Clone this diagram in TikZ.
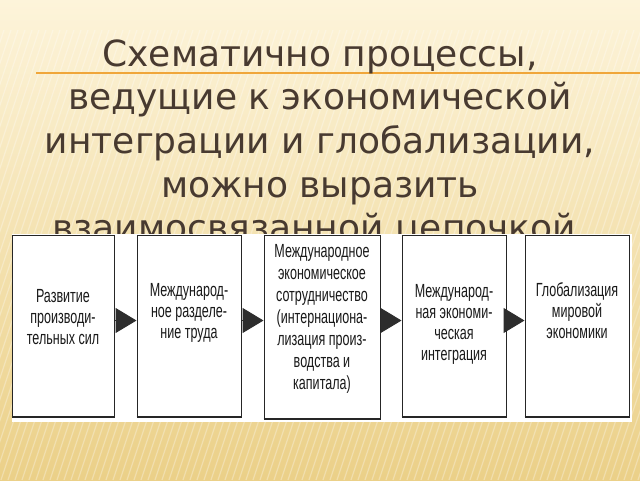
\documentclass[tikz,border=0pt]{standalone}
\usepackage{fontspec}
\setmainfont{DejaVu Sans}
\newfontfamily\boxfont[FakeStretch=0.66]{Liberation Sans}
\usetikzlibrary{arrows.meta}
\definecolor{titlebrown}{RGB}{72,58,48}
\definecolor{bgtop}{RGB}{253,244,218}
\definecolor{bgmid}{RGB}{250,232,178}
\definecolor{bgbot}{RGB}{235,208,136}
\definecolor{rulecol}{RGB}{240,166,58}
\definecolor{arrowgray}{RGB}{45,45,45}
\newcommand{\lines}[1]{\begin{tabular}[t]{@{}c@{}}#1\end{tabular}}
\tikzset{
  titletext/.style={inner sep=0pt, text=titlebrown, font=\fontsize{36}{43.7}\selectfont},
  stagebox/.style={draw=black!85, line width=1pt, fill=white, inner sep=0pt, anchor=north,
    font=\boxfont\fontsize{19}{21}\selectfont, text=black!90},
  link/.style={draw=arrowgray, line width=1pt, -{Triangle[length=21pt,width=25pt]}, fill=arrowgray},
}
\begin{document}
\begin{tikzpicture}[x=1pt,y=-1pt]
\useasboundingbox (0,0) rectangle (640,480);
\shade[top color=bgtop, middle color=bgmid, bottom color=bgbot] (0,0) rectangle (640,480);
\begin{scope}
  \clip (0,30) rectangle (640,480);
  \foreach \x in {-160,-153,...,640}
    \draw[white, opacity=0.3, line width=1.2pt] (\x,480) -- (\x+150,30);
\end{scope}
\draw[rulecol, line width=1.8pt] (36,73) -- (640,73);
\node[titletext, anchor=base] (title) at (320,66) {\lines{Схематично процессы,\\ведущие к экономической\\интеграции и глобализации,\\можно выразить\\взаимосвязанной цепочкой.}};
\fill[white] (12,234) rectangle (632,422);
\node[stagebox, minimum width=102pt, text height=67pt, text depth=114pt] (b1) at (63,235)
  {\lines{Развитие\\производи-\\тельных сил}};
\node[stagebox, minimum width=104pt, text height=61pt, text depth=120pt] (b2) at (189,235)
  {\lines{Международ-\\ное разделе-\\ние труда}};
\node[stagebox, minimum width=116pt, text height=22pt, text depth=161pt,
  font=\boxfont\fontsize{19}{22}\selectfont] (b3) at (322,235)
  {\lines{Международное\\экономическое\\сотрудничество\\(интернациона-\\лизация произ-\\водства и\\капитала)}};
\node[stagebox, minimum width=104pt, text height=62pt, text depth=119pt] (b4) at (454,235)
  {\lines{Международ-\\ная экономи-\\ческая\\интеграция}};
\node[stagebox, minimum width=104pt, text height=61pt, text depth=120pt] (b5) at (577,235)
  {\lines{Глобализация\\мировой\\экономики}};
\foreach \b in {b1,b2,b3,b4,b5}
  \draw[black!85, line width=1.8pt] (\b.south west) -- (\b.south east);
\draw[link] ([yshift=5.5pt]b1.east) -- ([yshift=5.5pt]b2.west);
\draw[link] ([yshift=5.5pt]b2.east) -- ([yshift=6.5pt]b3.west);
\draw[link] ([yshift=6.5pt]b3.east) -- ([yshift=5.5pt]b4.west);
\draw[link] ([yshift=5.5pt]b4.east) -- ([yshift=5.5pt]b5.west);
\end{tikzpicture}
\end{document}
